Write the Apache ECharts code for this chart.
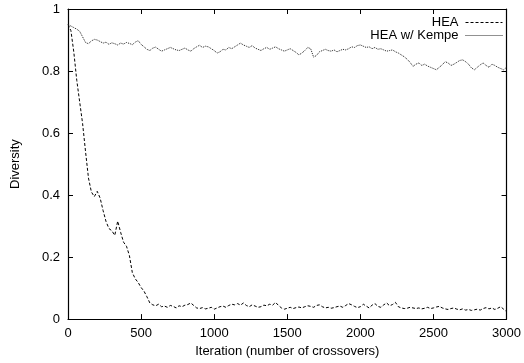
<!DOCTYPE html>
<html>
<head>
<meta charset="utf-8">
<script src="https://cdn.jsdelivr.net/npm/echarts@6/dist/echarts.min.js"></script>
<style>
  html, body { margin: 0; padding: 0; background: #fff; }
  #main { width: 524px; height: 363px; }
</style>
</head>
<body>
<div id="main"></div>
<script>
    // one sample every 20 iterations, 0..3000
    var xStep = 20;
    var seriesNames = ['HEA', 'HEA w/ Kempe'];

    var heaValues = [
        0.950, 0.930, 0.860, 0.770, 0.700, 0.630, 0.540, 0.455, 0.410, 0.395,
        0.412, 0.390, 0.350, 0.315, 0.292, 0.285, 0.270, 0.316, 0.280, 0.248,
        0.235, 0.205, 0.150, 0.130, 0.118, 0.102, 0.090, 0.072, 0.052, 0.046,
        0.043, 0.048, 0.040, 0.042, 0.038, 0.044, 0.041, 0.036, 0.043, 0.040,
        0.045, 0.047, 0.052, 0.044, 0.036, 0.034, 0.037, 0.033, 0.035, 0.038,
        0.032, 0.036, 0.040, 0.042, 0.038, 0.044, 0.048, 0.046, 0.050, 0.045,
        0.052, 0.044, 0.040, 0.046, 0.042, 0.038, 0.040, 0.045, 0.043, 0.048,
        0.045, 0.054, 0.044, 0.036, 0.032, 0.035, 0.038, 0.034, 0.037, 0.039,
        0.036, 0.040, 0.043, 0.041, 0.038, 0.044, 0.046, 0.040, 0.036, 0.038,
        0.035, 0.037, 0.040, 0.042, 0.038, 0.044, 0.050, 0.046, 0.041, 0.037,
        0.040, 0.048, 0.042, 0.036, 0.045, 0.050, 0.041, 0.038, 0.046, 0.052,
        0.043, 0.047, 0.054, 0.040, 0.036, 0.034, 0.035, 0.038, 0.036, 0.034,
        0.036, 0.033, 0.035, 0.038, 0.034, 0.036, 0.039, 0.041, 0.036, 0.033,
        0.031, 0.034, 0.036, 0.032, 0.030, 0.033, 0.029, 0.031, 0.028, 0.030,
        0.032, 0.029, 0.034, 0.037, 0.033, 0.036, 0.031, 0.035, 0.040, 0.032,
        0.024
    ];
    var kempeValues = [
        0.950, 0.945, 0.940, 0.935, 0.928, 0.910, 0.892, 0.888, 0.897, 0.902,
        0.900, 0.895, 0.890, 0.893, 0.886, 0.891, 0.888, 0.884, 0.890, 0.887,
        0.892, 0.889, 0.885, 0.893, 0.898, 0.886, 0.878, 0.870, 0.866, 0.874,
        0.877, 0.870, 0.864, 0.868, 0.872, 0.876, 0.872, 0.868, 0.866, 0.870,
        0.874, 0.868, 0.864, 0.872, 0.878, 0.883, 0.876, 0.880, 0.878, 0.872,
        0.866, 0.858, 0.862, 0.870, 0.868, 0.876, 0.872, 0.878, 0.884, 0.890,
        0.884, 0.880, 0.876, 0.882, 0.874, 0.870, 0.866, 0.872, 0.876, 0.870,
        0.874, 0.878, 0.872, 0.868, 0.864, 0.868, 0.872, 0.866, 0.860, 0.852,
        0.858, 0.866, 0.876, 0.872, 0.845, 0.850, 0.862, 0.866, 0.870, 0.866,
        0.864, 0.868, 0.862, 0.866, 0.870, 0.868, 0.872, 0.878, 0.876, 0.882,
        0.884, 0.880, 0.876, 0.878, 0.872, 0.876, 0.870, 0.872, 0.868, 0.864,
        0.866, 0.868, 0.862, 0.858, 0.852, 0.846, 0.838, 0.828, 0.815, 0.822,
        0.826, 0.818, 0.822, 0.816, 0.812, 0.808, 0.804, 0.812, 0.820, 0.830,
        0.826, 0.818, 0.822, 0.828, 0.834, 0.836, 0.830, 0.822, 0.810, 0.804,
        0.812, 0.820, 0.826, 0.818, 0.812, 0.822, 0.818, 0.812, 0.808, 0.804,
        0.812
    ];

    function withX(vals) {
        return vals.map(function (v, i) { return [i * xStep, v]; });
    }

    var font = 'Liberation Sans, Arial, Helvetica, sans-serif';
    var tickStyle = {show: true, inside: true, length: 5, lineStyle: {color: '#000', width: 1}};
    var frameLine = {show: true, onZero: false, lineStyle: {color: '#000', width: 1.2}};
    // legend: text on the left, line sample on the right, no marker dot
    function legendFor(name, top) {
        return {
            data: [name], right: 16, top: top, align: 'right',
            itemWidth: 37, itemHeight: 10, itemGap: 4,
            itemStyle: {opacity: 0},
            lineStyle: {width: 1},
            textStyle: {fontFamily: font, fontSize: 13, color: '#000', padding: [0, 2, 0, 0]}
        };
    }

    var myChart = echarts.init(document.getElementById('main'));
    var option = {
        animation: false,
        backgroundColor: '#fff',
        grid: {left: 68, right: 16, top: 9, bottom: 43},
        legend: [legendFor(seriesNames[0], 11), legendFor(seriesNames[1], 24)],
        xAxis: [
            {
                type: 'value', min: 0, max: 3000, interval: 500,
                name: 'Iteration (number of crossovers)', nameLocation: 'middle', nameGap: 25,
                nameTextStyle: {fontFamily: font, fontSize: 13, color: '#000'},
                axisLine: frameLine, axisTick: tickStyle, splitLine: {show: false},
                axisLabel: {fontFamily: font, fontSize: 13, color: '#000', margin: 8,
                    formatter: function (v) { return String(v); }}
            },
            {
                type: 'value', position: 'top', min: 0, max: 3000, interval: 500,
                axisLine: frameLine, axisTick: tickStyle, splitLine: {show: false},
                axisLabel: {show: false}
            }
        ],
        yAxis: [
            {
                type: 'value', min: 0, max: 1, interval: 0.2,
                name: 'Diversity', nameLocation: 'middle', nameGap: 46, nameRotate: 90,
                nameTextStyle: {fontFamily: font, fontSize: 13, color: '#000'},
                axisLine: frameLine, axisTick: tickStyle, splitLine: {show: false},
                axisLabel: {fontFamily: font, fontSize: 13, color: '#000', margin: 8,
                    formatter: function (v) { return v === 0 || v === 1 ? String(v) : v.toFixed(1); }}
            },
            {
                type: 'value', position: 'right', min: 0, max: 1, interval: 0.2,
                axisLine: frameLine, axisTick: tickStyle, splitLine: {show: false},
                axisLabel: {show: false}
            }
        ],
        series: [
            {
                name: seriesNames[0], type: 'line', symbol: 'none',
                data: withX(heaValues),
                lineStyle: {color: '#000', width: 1, type: [3, 2]},
                itemStyle: {color: '#000'}
            },
            {
                name: seriesNames[1], type: 'line', symbol: 'none',
                data: withX(kempeValues),
                lineStyle: {color: '#222', width: 1, type: [1, 1]},
                itemStyle: {color: '#222'}
            }
        ]
    };
    myChart.setOption(option);
</script>
</body>
</html>
